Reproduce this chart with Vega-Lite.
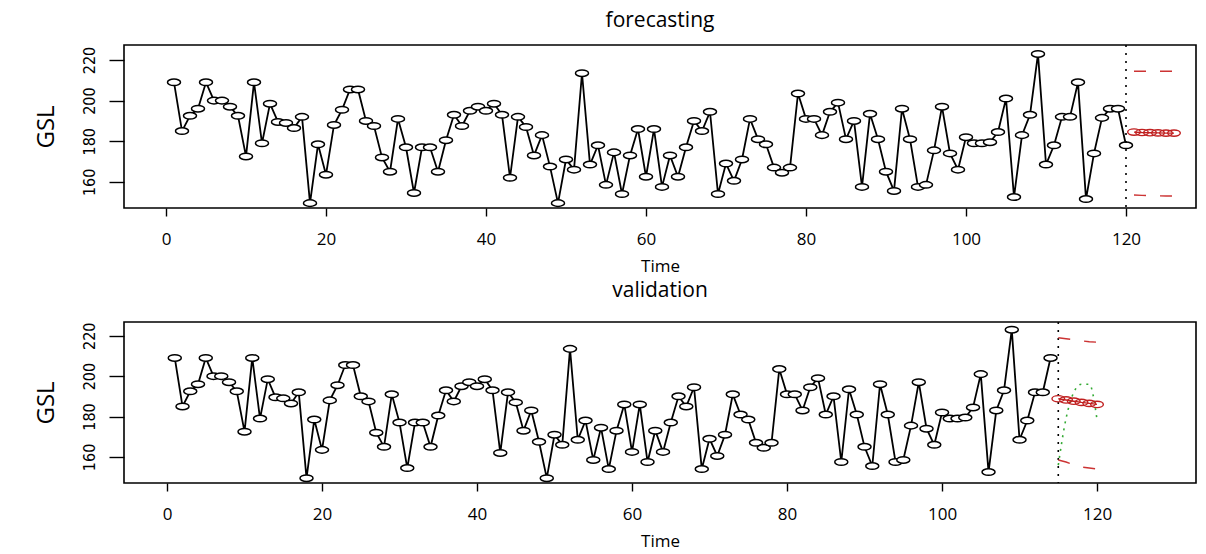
{
  "$schema": "https://vega.github.io/schema/vega-lite/v6.json",
  "autosize": {"type": "pad"},
  "padding": {"left": 33, "top": 9, "right": 11, "bottom": 5},
  "bounds": "flush",
  "spacing": 114,
  "background": "white",
  "config": {
    "view": {"stroke": "black", "strokeWidth": 1.6},
    "axis": {"grid": false, "domain": false, "tickColor": "black", "tickWidth": 1.4, "labelColor": "black", "titleColor": "black", "titleFontWeight": "normal"},
    "title": {"font": "Open Sans", "fontSize": 21, "fontWeight": "normal", "color": "black", "anchor": "middle"}
  },
  "datasets": {
    "series": [
      {"t":1,"v":209},{"t":2,"v":185},{"t":3,"v":192.5},{"t":4,"v":196},{"t":5,"v":209},
      {"t":6,"v":200},{"t":7,"v":200},{"t":8,"v":197},{"t":9,"v":192.5},{"t":10,"v":172.5},
      {"t":11,"v":209},{"t":12,"v":179},{"t":13,"v":198.5},{"t":14,"v":189.5},{"t":15,"v":189},
      {"t":16,"v":186.5},{"t":17,"v":192},{"t":18,"v":149.5},{"t":19,"v":178.5},{"t":20,"v":163.5},
      {"t":21,"v":188},{"t":22,"v":195.5},{"t":23,"v":205.5},{"t":24,"v":205.5},{"t":25,"v":190},
      {"t":26,"v":187.5},{"t":27,"v":172},{"t":28,"v":165},{"t":29,"v":191},{"t":30,"v":177},
      {"t":31,"v":154.5},{"t":32,"v":177},{"t":33,"v":177},{"t":34,"v":165},{"t":35,"v":180.5},
      {"t":36,"v":193},{"t":37,"v":187.5},{"t":38,"v":195},{"t":39,"v":197},{"t":40,"v":195},
      {"t":41,"v":198.5},{"t":42,"v":193},{"t":43,"v":162},{"t":44,"v":192},{"t":45,"v":187},
      {"t":46,"v":173},{"t":47,"v":183},{"t":48,"v":167.5},{"t":49,"v":149.5},{"t":50,"v":171},
      {"t":51,"v":166},{"t":52,"v":213.5},{"t":53,"v":168.5},{"t":54,"v":178},{"t":55,"v":158.5},
      {"t":56,"v":174.5},{"t":57,"v":154},{"t":58,"v":173},{"t":59,"v":186},{"t":60,"v":162.5},
      {"t":61,"v":186},{"t":62,"v":157.5},{"t":63,"v":173},{"t":64,"v":162.5},{"t":65,"v":177},
      {"t":66,"v":190},{"t":67,"v":185},{"t":68,"v":194.5},{"t":69,"v":154},{"t":70,"v":169},
      {"t":71,"v":160.5},{"t":72,"v":171},{"t":73,"v":191},{"t":74,"v":181},{"t":75,"v":178.5},
      {"t":76,"v":167},{"t":77,"v":164.5},{"t":78,"v":167},{"t":79,"v":203.5},{"t":80,"v":191},
      {"t":81,"v":191},{"t":82,"v":183},{"t":83,"v":194.5},{"t":84,"v":199},{"t":85,"v":181},
      {"t":86,"v":190},{"t":87,"v":157.5},{"t":88,"v":193.5},{"t":89,"v":181},{"t":90,"v":165},
      {"t":91,"v":155.5},{"t":92,"v":196},{"t":93,"v":181},{"t":94,"v":157.5},{"t":95,"v":158.5},
      {"t":96,"v":175.5},{"t":97,"v":197},{"t":98,"v":174},{"t":99,"v":166},{"t":100,"v":182},
      {"t":101,"v":179},{"t":102,"v":179},{"t":103,"v":179.5},{"t":104,"v":184.5},{"t":105,"v":201},
      {"t":106,"v":152.5},{"t":107,"v":183},{"t":108,"v":193},{"t":109,"v":223},{"t":110,"v":168.5},
      {"t":111,"v":178},{"t":112,"v":192},{"t":113,"v":192},{"t":114,"v":209},{"t":115,"v":151.5},
      {"t":116,"v":174},{"t":117,"v":191.5},{"t":118,"v":196},{"t":119,"v":196},{"t":120,"v":178}
    ],
    "cut_top": [{"t": 120}],
    "cut_val": [{"t": 115}],
    "fc_top_mean": [
      {"t":121,"v":184.5},{"t":122,"v":184.3},{"t":123,"v":184.2},{"t":124,"v":184.1},{"t":125,"v":184},{"t":126,"v":184}
    ],
    "fc_top_bounds": [
      {"t":121,"v":214.5,"b":"hi"},{"t":122,"v":214.5,"b":"hi"},{"t":123,"v":214.5,"b":"hi"},{"t":124,"v":214.5,"b":"hi"},{"t":125,"v":214.5,"b":"hi"},{"t":126,"v":214.5,"b":"hi"},
      {"t":121,"v":153.5,"b":"lo"},{"t":122,"v":153.3,"b":"lo"},{"t":123,"v":153.2,"b":"lo"},{"t":124,"v":153.1,"b":"lo"},{"t":125,"v":153,"b":"lo"},{"t":126,"v":153,"b":"lo"}
    ],
    "fc_val_mean": [
      {"t":115,"v":188.8},{"t":116,"v":188.2},{"t":117,"v":187.6},{"t":118,"v":187},{"t":119,"v":186.5},{"t":120,"v":186}
    ],
    "fc_val_bounds": [
      {"t":115,"v":219,"b":"hi"},{"t":116,"v":218.5,"b":"hi"},{"t":117,"v":218,"b":"hi"},{"t":118,"v":217.5,"b":"hi"},{"t":119,"v":217,"b":"hi"},{"t":120,"v":216.8,"b":"hi"},
      {"t":115,"v":158.5,"b":"lo"},{"t":116,"v":157.5,"b":"lo"},{"t":117,"v":156,"b":"lo"},{"t":118,"v":155,"b":"lo"},{"t":119,"v":154.5,"b":"lo"},{"t":120,"v":154,"b":"lo"}
    ],
    "val_actual": [
      {"t":115,"v":156},{"t":116,"v":179},{"t":117,"v":192},{"t":118,"v":196},{"t":119,"v":196},{"t":120,"v":178.5}
    ]
  },
  "vconcat": [
    {
      "title": {"text": "forecasting", "offset": 13},
      "width": 1072,
      "height": 163,
      "encoding": {
        "x": {"field": "t", "type": "quantitative",
              "scale": {"domain": [-5.25, 128.75], "nice": false, "zero": false},
              "axis": {"values": [0,20,40,60,80,100,120], "title": "Time", "tickSize": 8, "labelPadding": 15,
                       "labelFont": "Open Sans", "labelFontSize": 17, "titleFont": "Open Sans", "titleFontSize": 17, "titlePadding": 11}},
        "y": {"field": "v", "type": "quantitative",
              "scale": {"domain": [147.1, 227.4], "nice": false, "zero": false},
              "axis": {"values": [160,180,200,220], "title": "GSL", "tickSize": 15, "labelAngle": -90, "labelAlign": "center", "labelBaseline": "bottom",
                       "labelPadding": 12, "labelFont": "'DejaVu Sans Condensed', 'Liberation Sans Narrow', sans-serif", "labelFontSize": 16,
                       "titleFont": "Open Sans", "titleFontSize": 24, "titlePadding": 23}}
      },
      "layer": [
        {"data": {"name": "series"}, "mark": {"type": "line", "color": "black", "strokeWidth": 1.8}},
        {"data": {"name": "series"}, "mark": {"type": "point", "shape": "M-1,0A1,0.5 0 1,0 1,0A1,0.5 0 1,0 -1,0Z", "size": 170, "filled": true, "fill": "white", "stroke": "black", "strokeWidth": 1.5, "opacity": 1}},
        {"data": {"name": "cut_top"}, "mark": {"type": "rule", "color": "black", "strokeWidth": 1.6, "strokeDash": [2, 6]}, "encoding": {"x": {"field": "t", "type": "quantitative"}, "y": null}},
        {"data": {"name": "fc_top_bounds"}, "mark": {"type": "line", "color": "#cc3333", "strokeWidth": 1.4, "strokeDash": [12, 14]}, "encoding": {"detail": {"field": "b"}}},
        {"data": {"name": "fc_top_mean"}, "mark": {"type": "line", "color": "#c02020", "strokeWidth": 1.4}},
        {"data": {"name": "fc_top_mean"}, "mark": {"type": "point", "shape": "M-1,0A1,0.5 0 1,0 1,0A1,0.5 0 1,0 -1,0Z", "size": 160, "filled": false, "stroke": "#c02020", "strokeWidth": 1.4, "opacity": 1}}
      ]
    },
    {
      "title": {"text": "validation", "offset": 20},
      "width": 1072,
      "height": 161,
      "encoding": {
        "x": {"field": "t", "type": "quantitative",
              "scale": {"domain": [-5.55, 132.77], "nice": false, "zero": false},
              "axis": {"values": [0,20,40,60,80,100,120], "title": "Time", "tickSize": 8, "labelPadding": 15,
                       "labelFont": "Open Sans", "labelFontSize": 17, "titleFont": "Open Sans", "titleFontSize": 17, "titlePadding": 11}},
        "y": {"field": "v", "type": "quantitative",
              "scale": {"domain": [147.1, 226.8], "nice": false, "zero": false},
              "axis": {"values": [160,180,200,220], "title": "GSL", "tickSize": 15, "labelAngle": -90, "labelAlign": "center", "labelBaseline": "bottom",
                       "labelPadding": 12, "labelFont": "'DejaVu Sans Condensed', 'Liberation Sans Narrow', sans-serif", "labelFontSize": 16,
                       "titleFont": "Open Sans", "titleFontSize": 24, "titlePadding": 23}}
      },
      "layer": [
        {"data": {"name": "series"}, "transform": [{"filter": "datum.t <= 114"}], "mark": {"type": "line", "color": "black", "strokeWidth": 1.8}},
        {"data": {"name": "series"}, "transform": [{"filter": "datum.t <= 114"}], "mark": {"type": "point", "shape": "M-1,0A1,0.5 0 1,0 1,0A1,0.5 0 1,0 -1,0Z", "size": 170, "filled": true, "fill": "white", "stroke": "black", "strokeWidth": 1.5, "opacity": 1}},
        {"data": {"name": "cut_val"}, "mark": {"type": "rule", "color": "black", "strokeWidth": 1.6, "strokeDash": [2, 6]}, "encoding": {"x": {"field": "t", "type": "quantitative"}, "y": null}},
        {"data": {"name": "fc_val_bounds"}, "mark": {"type": "line", "color": "#cc3333", "strokeWidth": 1.4, "strokeDash": [12, 14]}, "encoding": {"detail": {"field": "b"}}},
        {"data": {"name": "val_actual"}, "mark": {"type": "line", "color": "#33aa33", "strokeWidth": 1.6, "strokeDash": [2, 5], "interpolate": "monotone"}},
        {"data": {"name": "fc_val_mean"}, "mark": {"type": "line", "color": "#c02020", "strokeWidth": 1.4}},
        {"data": {"name": "fc_val_mean"}, "mark": {"type": "point", "shape": "M-1,0A1,0.5 0 1,0 1,0A1,0.5 0 1,0 -1,0Z", "size": 160, "filled": false, "stroke": "#c02020", "strokeWidth": 1.4, "opacity": 1}}
      ]
    }
  ]
}
